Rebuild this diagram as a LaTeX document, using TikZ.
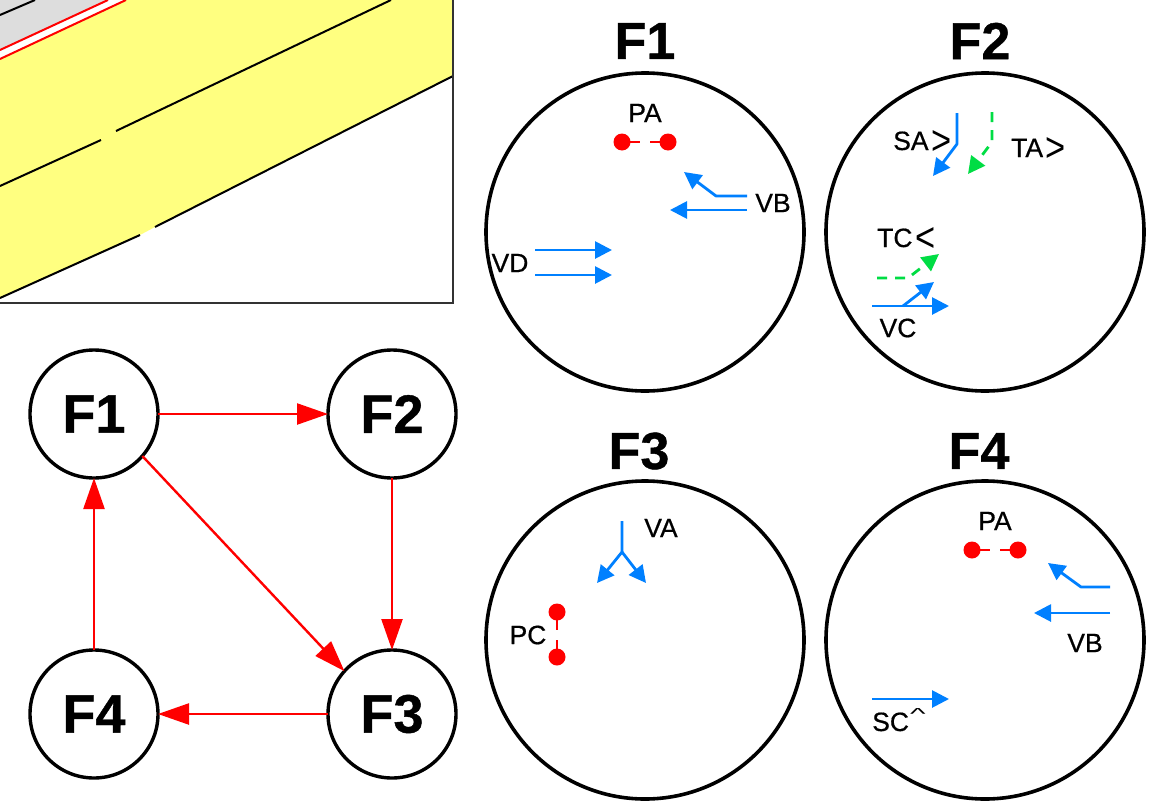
\documentclass[tikz,border=0pt]{standalone}
\usepackage{fontspec}
\setmainfont{Liberation Sans}
\newfontfamily\labfont[FakeBold=0.6]{Liberation Sans}
\newfontfamily\headfont[FakeBold=0.8]{Liberation Sans Bold}
\usetikzlibrary{arrows.meta}
\definecolor{cblue}{RGB}{0,128,255}
\definecolor{cgreen}{RGB}{0,221,68}
\definecolor{cyell}{RGB}{255,255,128}
\definecolor{cgrey}{RGB}{221,221,221}
\newcommand{\chevR}{\kern2.5pt\raisebox{-4.5pt}{\scalebox{1.3}[1.55]{\normalfont >}}}
\newcommand{\chevL}{\kern2.5pt\raisebox{-4.5pt}{\scalebox{1.3}[1.55]{\normalfont <}}}
\newcommand{\capmark}{\kern1pt\raisebox{12pt}{\scalebox{1.25}[0.6]{\normalfont\textasciicircum}}}
\tikzset{
  bigf/.style={font=\fontsize{52}{56}\selectfont\headfont,inner sep=0pt},
  lab/.style={font=\fontsize{26.5}{30}\selectfont\labfont,inner sep=0pt,text=black},
  bigcirc/.style={circle,draw=black,line width=3.6pt,minimum size=318pt,inner sep=0pt,outer sep=0pt},
  statec/.style={circle,draw=black,line width=3.4pt,minimum size=128pt,inner sep=0pt,outer sep=0pt,font=\fontsize{54}{58}\selectfont\headfont},
  trans/.style={draw=red,line width=2.4pt,-{Triangle[length=31pt,width=21pt]}},
  blue/.style={draw=cblue,fill=none,line width=2.8pt,line join=round,-{Triangle[length=17pt,width=17pt,fill=cblue]}},
  green/.style={draw=cgreen,line width=2.8pt,dash pattern=on 10pt off 8pt,-{Triangle[length=17pt,width=17pt,fill=cgreen]}},
  rdot/.style={circle,fill=red,minimum size=17pt,inner sep=0pt,outer sep=0pt},
  rlink/.style={draw=red,line width=2.6pt,dash pattern=on 18pt off 10pt},
  thinblack/.style={draw=black,line width=2pt},
}
\begin{document}
\begin{tikzpicture}[x=1pt,y=-1pt]
\useasboundingbox (0,0) rectangle (1160,809);
\fill[white] (0,0) rectangle (1160,809);
% cut-away in the top left
\begin{scope}
\clip (0,0) rectangle (453,303);
\fill[cgrey] (0,0) rectangle (453,303);
\fill[white] (0,50) -- (108,0) -- (126,0) -- (0,59) -- cycle;
\fill[cyell] (0,59) -- (126,0) -- (453,0) -- (453,76) -- (0,298) -- cycle;
\fill[white] (0,298) -- (453,76) -- (453,303) -- (0,303) -- cycle;
\fill[cyell] (0,298) -- (140,235) -- (155,227) -- (453,76) -- (300,100) -- cycle;
\draw[thinblack] (0,15) -- (35,0);
\draw[red,line width=2pt] (0,50) -- (108,0);
\draw[red,line width=2pt] (0,59) -- (126,0);
\draw[thinblack] (0,186) -- (101,140);
\draw[thinblack] (116,131) -- (391,0);
\draw[thinblack] (0,298) -- (140,235);
\draw[thinblack] (155,227) -- (453,76);
\end{scope}
\draw[black!80,line width=2pt] (453,0) -- (453,303) -- (0,303);
% state graph
\node[statec] (s1) at (94,414) {F1};
\node[statec] (s2) at (392,414) {F2};
\node[statec] (s3) at (392,714) {F3};
\node[statec] (s4) at (94,714) {F4};
\draw[trans] (s1) -- (s2);
\draw[trans] (s2) -- (s3);
\draw[trans] (s3) -- (s4);
\draw[trans] (s4) -- (s1);
\draw[trans] (s1.-41) -- (s3.138);
% panels
\node[bigf] (t1) at (645,41) {F1};
\node[bigf] (t2) at (980,41) {F2};
\node[bigf] (t3) at (639,451) {F3};
\node[bigf] (t4) at (979,451) {F4};
\node[bigcirc] (c1) at (645,232) {};
\node[bigcirc] (c2) at (985,232) {};
\node[bigcirc] (c3) at (645,640) {};
\node[bigcirc] (c4) at (985,640) {};
% panel F1
\node[lab] (l1) at (645,113) {PA};
\node[lab] (l2) at (773,203) {VB};
\node[lab] (l3) at (510,263) {VD};
\node[rdot] (d1) at (622,142) {};
\node[rdot] (d2) at (668,142) {};
\draw[rlink] (d1.center) -- (d2.center);
\coordinate (a1) at (747,196); \coordinate (a1t) at (684,172);
\draw[blue] (a1) -- (716,196) -- (a1t);
\coordinate (a2) at (747,210); \coordinate (a2t) at (670,210);
\draw[blue] (a2) -- (a2t);
\coordinate (a3) at (535,250); \coordinate (a3t) at (612,250);
\draw[blue] (a3) -- (a3t);
\coordinate (a4) at (535,275); \coordinate (a4t) at (612,275);
\draw[blue] (a4) -- (a4t);
% panel F2
\node[lab,anchor=base west] (l4) at (893,150) {SA\chevR};
\node[lab,anchor=base west] (l5) at (1011,157) {TA\chevR};
\node[lab,anchor=base west] (l6) at (877,247) {TC\chevL};
\node[lab] (l7) at (898,328) {VC};
\coordinate (b1) at (957,113); \coordinate (b1t) at (933,176);
\draw[blue] (b1) -- (957,144) -- (b1t);
\coordinate (b2) at (992,112); \coordinate (b2t) at (968,174);
\draw[green] (b2) -- (992,142) -- (b2t);
\coordinate (b3) at (877,278); \coordinate (b3t) at (939,254);
\draw[green] (b3) -- (908,278) -- (b3t);
\coordinate (b4) at (872,306); \coordinate (b4t) at (949,306);
\draw[blue] (b4) -- (b4t);
\coordinate (b5) at (903,306); \coordinate (b5t) at (934,282);
\draw[blue] (b5) -- (b5t);
% panel F3
\node[lab] (l8) at (661,528) {VA};
\node[lab] (l9) at (528,635) {PC};
\node[rdot] (d3) at (557,612) {};
\node[rdot] (d4) at (557,657) {};
\draw[rlink] (d3.center) -- (d4.center);
\coordinate (e1) at (622,521); \coordinate (e0) at (622,552);
\coordinate (e1t) at (597,583); \coordinate (e2t) at (646,583);
\draw[blue] (e1) -- (e0) -- (e1t);
\draw[blue] (e0) -- (e2t);
% panel F4
\node[lab] (l10) at (995,521) {PA};
\node[lab] (l11) at (1085,643) {VB};
\node[lab,anchor=base west] (l12) at (872,731) {SC\capmark};
\node[rdot] (d5) at (972,550) {};
\node[rdot] (d6) at (1018,550) {};
\draw[rlink] (d5.center) -- (d6.center);
\coordinate (g1) at (1110,587); \coordinate (g1t) at (1048,563);
\draw[blue] (g1) -- (1081,587) -- (g1t);
\coordinate (g2) at (1110,613); \coordinate (g2t) at (1034,613);
\draw[blue] (g2) -- (g2t);
\coordinate (g3) at (872,699); \coordinate (g3t) at (949,699);
\draw[blue] (g3) -- (g3t);
\end{tikzpicture}
\end{document}
